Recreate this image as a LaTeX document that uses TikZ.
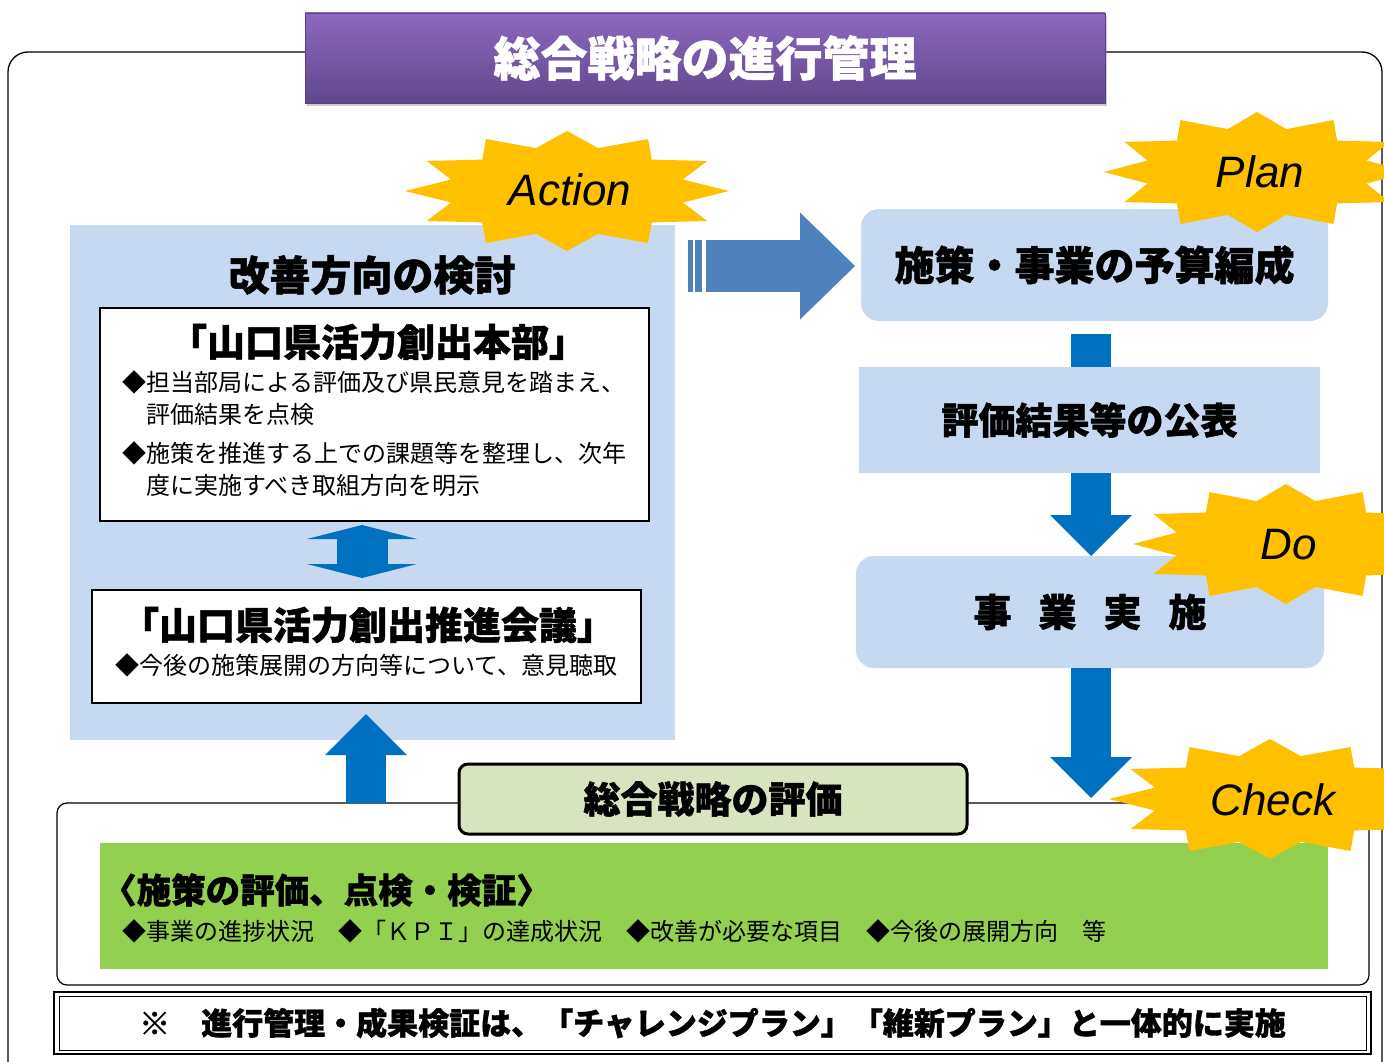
\documentclass[tikz,border=0pt]{standalone}
\usepackage{fontspec}
\setmainfont{Liberation Sans}
\newfontfamily\jpfont{Noto Sans CJK JP}[BoldFeatures={FakeBold=1.2}]
\usetikzlibrary{arrows.meta,calc,shadows}

\definecolor{panelblue}{RGB}{198,217,241}
\definecolor{arrowblue}{RGB}{0,112,192}
\definecolor{actionblue}{RGB}{79,129,189}
\definecolor{burstgold}{RGB}{255,192,0}
\definecolor{checkgreen}{RGB}{146,208,80}
\definecolor{evalgreen}{RGB}{215,228,189}
\definecolor{titletop}{RGB}{140,104,190}
\definecolor{titlebottom}{RGB}{96,72,140}
\definecolor{titleedge}{RGB}{90,66,130}

\tikzset{
  box/.style={inner sep=0pt, outer sep=0pt, anchor=north west},
  roundbox/.style={box, fill=panelblue, rounded corners=18pt},
  titlebox/.style={draw=titleedge, top color=titletop, bottom color=titlebottom,
    minimum width=800pt, minimum height=90pt, inner sep=0pt, text=white,
    font=\jpfont\bfseries\fontsize{47pt}{50pt}\selectfont,
    drop shadow={shadow xshift=2pt, shadow yshift=-3pt, opacity=.4}},
  jphead/.style={font=\jpfont\bfseries\fontsize{#1pt}{#1pt}\selectfont, inner sep=0pt},
  jpbody/.style={font=\jpfont\fontsize{#1pt}{#1pt}\selectfont, inner sep=0pt, anchor=west},
  bursttext/.style={font=\itshape\fontsize{44pt}{44pt}\selectfont, inner sep=0pt},
  burst/.style={fill=burstgold},
  flowbar/.style={draw=arrowblue, line width=40pt},
  flowarrow/.style={draw=arrowblue, line width=40pt,
    -{Triangle[length=41pt,width=82pt,line width=0pt]}},
  linkarrow/.style={draw=arrowblue, line width=51pt,
    {Triangle[length=14pt,width=110pt,line width=0pt]}-{Triangle[length=14pt,width=110pt,line width=0pt]}},
  actarrow/.style={draw=actionblue, line width=52pt,
    -{Triangle[length=55pt,width=107pt,line width=0pt]}}
}

\begin{document}
\begin{tikzpicture}[x=1pt,y=-1pt]

        \fill[white] (0,0) rectangle (1384,1062);
        \useasboundingbox (0,0) rectangle (1384,1062);

        % Outer frame and title
        \node[box, draw, line width=1.3pt, rounded corners=20pt, minimum width=1374pt, minimum height=1060pt] (frame) at (8,52) {};
        \node[titlebox] (title) at (705,58) {総合戦略の進行管理};

        % Action side
        \node[box, fill=panelblue, minimum width=605pt, minimum height=515pt] (review) at (70,225) {};
        \node[jphead=41] (reviewtitle) at (372,275) {改善方向の検討};

        \node[box, draw, line width=1.2pt, fill=white, minimum width=549pt, minimum height=213pt] (hq) at (100,308) {};
        \node[jphead=38] (hqtitle) at (378,342) {「山口県活力創出本部」};
        \node[jpbody=24] (hqline1) at (122,382) {◆担当部局による評価及び県民意見を踏まえ、};
        \node[jpbody=24] (hqline2) at (146,414) {評価結果を点検};
        \node[jpbody=24] (hqline3) at (122,453) {◆施策を推進する上での課題等を整理し、次年};
        \node[jpbody=24] (hqline4) at (146,485) {度に実施すべき取組方向を明示};

        \node[box, draw, line width=1.2pt, fill=white, minimum width=549pt, minimum height=113pt] (council) at (92,590) {};
        \node[jphead=38] (counciltitle) at (368,625) {「山口県活力創出推進会議」};
        \node[jpbody=24] (councilline) at (115,665) {◆今後の施策展開の方向等について、意見聴取};

        % Plan / Do side
        \node[roundbox, jphead=40, minimum width=467pt, minimum height=112pt] (plan) at (861,209) {施策・事業の予算編成};
        \node[box, fill=panelblue, jphead=37, minimum width=461pt, minimum height=106pt] (publish) at (859,367) {評価結果等の公表};
        \node[roundbox, jphead=38, minimum width=468pt, minimum height=112pt] (execute) at (856,556) {事\hspace{27pt}業\hspace{27pt}実\hspace{27pt}施};

        % Check side
        \node[box, draw, line width=1.2pt, rounded corners=10pt, minimum width=1312pt, minimum height=182pt] (evalframe) at (57,803) {};
        \node[box, fill=checkgreen, minimum width=1228pt, minimum height=126pt] (check) at (100,843) {};
        \node[jphead=34.5, anchor=west] (checktitle) at (102,890) {〈施策の評価、点検・検証〉};
        \node[jpbody=24] (checkitems) at (122,931) {◆事業の進捗状況　◆「ＫＰＩ」の達成状況　◆改善が必要な項目　◆今後の展開方向　等};

        % Connectors
        \coordinate (spine) at (1091,0);
        \coordinate (linkx) at (362,0);
        \coordinate (upx) at (366,0);
        \coordinate (acttail) at (706,266);

        \draw[flowbar] ($(spine |- plan.south)+(0,13)$) -- (spine |- publish.north);
        \draw[flowarrow] (spine |- publish.south) -- (spine |- execute.north);
        \draw[flowarrow] (spine |- execute.south) -- ($(spine |- evalframe.north)+(0,-5)$);
        \draw[linkarrow] ($(linkx |- hq.south)+(0,4)$) -- ($(linkx |- council.north)+(0,-12)$);
        \draw[flowarrow] (upx |- evalframe.north) -- ($(upx |- council.south)+(0,11)$);

        \fill[actionblue] (688,240) rectangle (693,292);
        \fill[actionblue] (695,240) rectangle (702,292);
        \draw[actarrow] (acttail) -- ($(plan.west |- acttail)+(-6,0)$);

        \node[draw, line width=3pt, rounded corners=9pt, fill=evalgreen, jphead=37, minimum width=508pt, minimum height=70pt] (evaltitle) at (713,799) {総合戦略の評価};

        % Note
        \node[box, draw, line width=2.5pt, jphead=31, minimum width=1317pt, minimum height=62pt] (note) at (54,992) {※　進行管理・成果検証は、「チャレンジプラン」「維新プラン」と一体的に実施};
        \draw[line width=1pt] ($(note.north west)+(5,4)$) rectangle ($(note.south east)+(-5,-4)$);

        % Bursts
        \foreach \cx/\cy/\rx in {567/191/162, 1257/172/153, 1286/544/153, 1270/799/161}
          \fill[burst, shift={(\cx,\cy)}, xscale=\rx, yscale=60] (0:1)
            \foreach \a [evaluate=\a as \r using {ifthenelse(mod(\a,30)==0,1,0.74)}] in {15,30,...,345} { -- (\a:\r) } -- cycle;

        \node[bursttext] (actlabel) at (570,190) {Action};
        \node[bursttext] (planlabel) at (1260,172) {Plan};
        \node[bursttext] (dolabel) at (1289,545) {Do};
        \node[bursttext] (checklabel) at (1273,800) {Check};

\end{tikzpicture}
\end{document}
